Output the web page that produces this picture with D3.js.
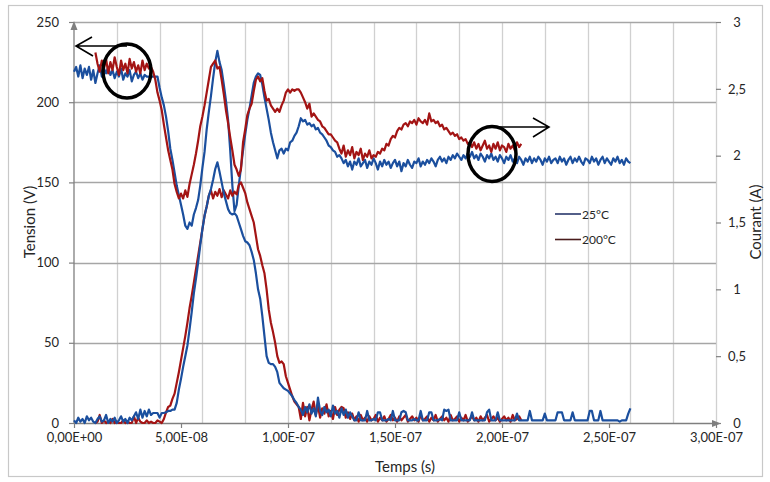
<!DOCTYPE html>
<html><head><meta charset="utf-8">
<script src="https://cdn.jsdelivr.net/npm/d3@7"></script>
<style>
html,body{margin:0;padding:0;background:#fff;}
svg{display:block;font-family:Lato,"Open Sans",sans-serif;}
</style></head>
<body><svg id="c" width="770" height="482"></svg>
<script>
// ---- Data (sampled every 1 ns) ----
const sampleStep = 1e-9;
const start25 = 0;      // 25°C records start at t = 0
const start200 = 1e-8;  // 200°C records start at t = 10 ns

// Tension 25°C (V), t = 0 .. 260 ns
const tension25 = [
 219,222,216,223,215,221,217,222,214,220,
 212,218,223,216,221,218,222,217,220,215,
 219,216,221,214,218,216,220,213,217,219,
 215,218,214,217,216,216,216,216,216,
 216,209,203,198,191,182,171,164,156,148,142,
 136,130,123,121,125,123,130,134,139,148,
 159,169,183,194,204,215,225,232,225,220,
 211,201,189,170,148,132,136,148,159,170,
 180,189,196,204,212,216,218,217,211,203,
 196,189,181,175,170,165,170,171,168,171,
 170,175,176,179,181,185,190,188,189,186,
 187,185,186,183,184,181,180,178,176,173,
 172,170,169,166,167,165,
 162,164,160,163,158,163,161,165,160,162,
 164,159,163,161,165,162,158,163,160,164,
 161,163,159,162,164,160,163,157,162,160,
 164,161,159,163,162,165,160,163,161,164,
 162,165,163,160,164,166,163,165,162,166,
 164,167,165,168,166,164,167,165,168,166,
 169,165,167,164,168,166,163,167,165,168,
 164,166,163,167,165,162,166,164,167,163,
 165,162,166,164,161,165,163,166,162,165,
 163,166,164,161,165,163,166,162,164,165,
 162,166,163,165,161,164,166,162,165,163,
 166,163,161,165,164,162,166,163,165,161,
 164,166,162,165,163,161,165,163,166,162,
 164,161,165,163,162
];

// Tension 200°C (V), t = 10 .. 209 ns
const tension200 = [
 231,224,219,226,221,227,218,225,220,228,
 222,217,226,220,224,218,227,221,225,219,
 223,218,226,220,224,221,
 222,
 219,214,206,201,195,186,178,170,164,158,149,144,140,
 143,140,145,141,149,155,161,168,176,185,
 191,198,206,214,222,224,226,221,222,214,
 205,195,187,178,170,161,158,154,158,175,
 183,192,196,199,207,214,216,213,215,207,
 201,202,198,196,194,196,194,198,201,206,
 208,206,208,207,208,208,206,203,200,196,199,191,
 193,191,189,188,185,184,182,180,180,178,176,175,
 171,168,173,166,170,167,172,165,169,167,171,164,168,166,170,165,167,
 166,169,168,171,
 170,174,173,177,179,178,182,184,183,186,187,
 185,188,187,189,186,190,188,187,189,186,193,188,189,187,188,
 185,186,183,184,182,180,181,179,180,177,178,176,177,174,175,
 172,175,171,174,170,173,176,171,173,169,174,171,175,170,173,172,169,174,171,173,170,175,172,174
];

// Courant 25°C (A), t = 0 .. 260 ns
const courant25 = [
 0.02,0.0,0.04,0.01,0.03,0.0,0.05,0.02,0.04,0.01,
 0.0,0.03,0.05,0.01,0.02,0.06,0.0,0.03,0.01,0.04,
 0.0,0.02,0.05,0.01,0.03,0.0,0.04,0.02,0.05,
 0.08,0.03,0.1,0.04,0.09,0.05,0.1,0.06,
 0.075,0.075,0.075,0.04,0.075,0.075,0.08,0.09,0.09,0.1,
 0.1,0.15,0.25,0.33,0.42,0.5,0.58,0.7,0.83,0.97,
 1.08,1.2,1.33,1.45,1.55,1.62,1.7,1.75,1.82,1.9,
 1.95,1.88,1.8,1.72,1.66,1.6,1.57,1.56,1.57,1.55,
 1.5,1.45,1.4,1.36,1.35,1.33,1.28,1.22,1.12,1.0,
 0.93,0.8,0.65,0.5,0.45,0.44,0.44,0.42,0.38,0.3,
 0.28,0.26,0.25,0.24,0.22,0.2,0.17,0.15,0.12,
 0.1,0.06,0.12,0.08,0.14,0.07,0.11,0.05,0.19,0.09,
 0.06,0.12,0.08,0.1,0.05,0.13,0.07,0.09,0.04,0.11,
 0.06,0.1,0.04,0.08,0.05,
 0.02,0.02,0.08,0.02,0.02,0.02,0.09,0.02,0.02,0.03,
 0.02,0.08,0.08,0.02,0.02,0.02,0.03,0.02,0.09,0.02,
 0.02,0.02,0.08,0.09,0.08,0.02,0.02,0.02,0.03,0.02,
 0.02,0.09,0.02,0.02,0.02,0.08,0.08,0.02,0.02,0.02,
 0.03,0.02,0.1,0.09,0.1,0.02,0.02,0.02,0.02,0.08,
 0.02,0.02,0.02,0.02,0.02,0.08,0.02,0.02,0.02,0.02,
 0.02,0.02,0.08,0.1,0.02,0.02,0.02,0.08,0.02,0.02,
 0.02,0.02,0.02,0.02,0.02,0.02,0.07,0.02,0.02,0.02,
 0.02,0.02,0.09,0.02,0.02,0.02,0.02,0.02,0.02,0.07,
 0.02,0.02,0.02,0.02,0.02,0.08,0.08,0.08,0.02,0.02,
 0.02,0.02,0.08,0.02,0.02,0.02,0.02,0.02,0.02,0.02,
 0.09,0.09,0.02,0.02,0.02,0.09,0.02,0.02,0.02,0.02,
 0.02,0.02,0.02,0.02,0.01,0.02,0.02,0.02,0.07,0.11
];

// Courant 200°C (A), t = 10 .. 209 ns
const courant200 = [
 0.0,0.01,0.06,0.0,0.02,0.0,0.01,0.0,0.03,0.0,
 0.01,0.0,0.0,0.02,0.0,0.01,0.0,0.0,0.05,0.0,
 0.04,0.01,0.0,0.0,0.02,0.0,0.01,0.0,0.0,0.02,0.01,0.0,
 0.03,0.08,0.12,0.13,0.18,0.22,0.3,0.38,0.47,0.56,
 0.65,0.75,0.86,0.95,1.05,1.15,1.25,1.35,1.45,1.55,
 1.62,1.7,1.74,1.68,1.73,1.7,1.75,1.69,1.74,1.71,1.68,1.74,1.7,1.73,1.71,
 1.78,1.8,1.76,1.72,1.65,1.6,1.55,1.5,1.4,1.3,
 1.25,1.18,1.12,1.0,0.85,0.75,0.68,0.6,0.5,0.45,
 0.46,0.44,0.35,0.3,0.25,0.2,0.16,0.14,0.12,
 0.03,0.15,0.05,0.12,0.02,0.1,0.16,0.06,0.13,0.04,
 0.11,0.07,0.14,0.05,0.09,0.03,0.12,0.06,0.1,0.12,
 0.11,0.04,0.08,0.03,0.07,
 0.02,0.05,0.01,0.06,0.02,0.04,0.01,0.05,0.02,0.03,
 0.06,0.01,0.04,0.02,0.05,0.01,0.03,0.06,0.02,0.04,
 0.01,0.05,0.02,0.04,0.06,0.01,0.03,0.05,0.02,0.04,
 0.01,0.06,0.02,0.03,0.05,0.01,0.04,0.02,0.06,0.01,
 0.03,0.05,0.02,0.04,0.01,0.06,0.02,0.03,0.05,0.01,
 0.04,0.02,0.06,0.01,0.03,0.05,0.02,0.04,0.01,0.05,
 0.02,0.04,0.06,0.01,0.03,0.05,0.02,0.04,0.01,0.03,
 0.05,0.02,0.04,0.01,0.06,0.02,0.03,0.05,0.02
];

const xTickValues = [0, 5e-8, 1e-7, 1.5e-7, 2e-7, 2.5e-7, 3e-7];
const xTickLabels = ["0,00E+00","5,00E-08","1,00E-07","1,50E-07","2,00E-07","2,50E-07","3,00E-07"];
const yLeftTicks = [0, 50, 100, 150, 200, 250];
const yRightTicks = [0, 0.5, 1, 1.5, 2, 2.5, 3];
const yRightLabels = ["0","0,5","1","1,5","2","2,5","3"];
const legendLabels = ["25°C", "200°C"];

// ---- Drawing ----
const svg = d3.select("#c");
const L = 74, R = 716, T = 22, B = 423;
const x = d3.scaleLinear().domain([0, 3e-7]).range([L, R]);
const yV = d3.scaleLinear().domain([0, 250]).range([B, T]);
const yA = d3.scaleLinear().domain([0, 3]).range([B, T]);

const blue = "#1b4f9e", red = "#a31414";
const textCol = "#262626";

// chart border
svg.append("rect").attr("x", 8.5).attr("y", 5.5).attr("width", 754).attr("height", 471)
  .attr("fill", "#fff").attr("stroke", "#c8c8c8").attr("stroke-width", 1.2);

// vertical gridlines every 2E-08
const vg = d3.range(1, 16).map(i => i * 2e-8);
svg.append("g").selectAll("line").data(vg).join("line")
  .attr("x1", d => Math.round(x(d)) + 0.5).attr("x2", d => Math.round(x(d)) + 0.5)
  .attr("y1", T).attr("y2", B).attr("stroke", "#d0d0d0").attr("stroke-width", 1.3);
// horizontal gridlines
svg.append("g").selectAll("line").data(yLeftTicks.slice(1)).join("line")
  .attr("x1", L).attr("x2", R)
  .attr("y1", d => Math.round(yV(d)) + 0.5).attr("y2", d => Math.round(yV(d)) + 0.5)
  .attr("stroke", "#a6a6a6").attr("stroke-width", 1.3);

// axes
const axX = svg.append("g").attr("transform", `translate(0,${B})`)
  .call(d3.axisBottom(x).tickValues(xTickValues).tickFormat((d, i) => xTickLabels[i]).tickSize(5).tickPadding(5));
const axL = svg.append("g").attr("transform", `translate(${L},0)`)
  .call(d3.axisLeft(yV).tickValues(yLeftTicks).tickSize(5).tickPadding(10));
const axR = svg.append("g").attr("transform", `translate(${R},0)`)
  .call(d3.axisRight(yA).tickValues(yRightTicks).tickFormat((d, i) => yRightLabels[i]).tickSize(5).tickPadding(16));
[axX, axL, axR].forEach(a => {
  a.select(".domain").remove();
  a.selectAll(".tick line").attr("stroke", "#808080").attr("stroke-width", 1.2);
  a.selectAll(".tick text").attr("fill", textCol).attr("font-size", 13).attr("font-family", "Lato, sans-serif");
});
axR.selectAll(".tick text").attr("text-anchor", "middle").attr("x", 21);

// axis lines with arrowheads
const axisCol = "#7f7f7f";
svg.append("line").attr("x1", L).attr("x2", L).attr("y1", B).attr("y2", T + 4)
  .attr("stroke", axisCol).attr("stroke-width", 1.3);
svg.append("path").attr("d", `M${L},${T - 1} L${L - 3.5},${T + 8} L${L + 3.5},${T + 8} Z`).attr("fill", axisCol);
svg.append("line").attr("x1", L).attr("x2", R - 2).attr("y1", B + 0.5).attr("y2", B + 0.5)
  .attr("stroke", axisCol).attr("stroke-width", 1.3);
svg.append("path").attr("d", `M${R + 5},${B + 0.5} L${R - 4},${B - 3} L${R - 4},${B + 4} Z`).attr("fill", axisCol);

// series
function pts(arr, t0) { return arr.map((v, i) => [t0 + i * sampleStep, v]); }
const lineV = d3.line().x(d => x(d[0])).y(d => yV(d[1]));
const lineA = d3.line().x(d => x(d[0])).y(d => yA(d[1]));
const series = [
  { data: pts(tension25, start25), gen: lineV, col: blue },
  { data: pts(tension200, start200), gen: lineV, col: red },
  { data: pts(courant200, start200), gen: lineA, col: red },
  { data: pts(courant25, start25), gen: lineA, col: blue }
];
svg.append("g").selectAll("path").data(series).join("path")
  .attr("d", s => s.gen(s.data)).attr("fill", "none")
  .attr("stroke", s => s.col).attr("stroke-width", 2.2).attr("stroke-linejoin", "round");

// axis titles
svg.append("text").attr("transform", "translate(35,222) rotate(-90)").attr("text-anchor", "middle")
  .attr("font-size", 15).attr("fill", textCol).text("Tension (V)");
svg.append("text").attr("transform", "translate(761,222) rotate(-90)").attr("text-anchor", "middle")
  .attr("font-size", 15).attr("fill", textCol).text("Courant (A)");
svg.append("text").attr("x", 405).attr("y", 472).attr("text-anchor", "middle")
  .attr("font-size", 15).attr("fill", textCol).text("Temps (s)");

// legend
const legCols = ["#28386c", "#4a1c1c"];
const leg = svg.append("g");
legendLabels.forEach((lab, i) => {
  const yy = 214 + i * 25.5;
  leg.append("line").attr("x1", 555).attr("x2", 581).attr("y1", yy).attr("y2", yy)
    .attr("stroke", legCols[i]).attr("stroke-width", 1.6);
  leg.append("text").attr("x", 582).attr("y", yy + 4.5).attr("font-size", 12).attr("fill", textCol).text(lab);
});

// annotations: circles and arrows
const ann = svg.append("g").attr("fill", "none").attr("stroke", "#000");
ann.append("ellipse").attr("cx", 127).attr("cy", 71).attr("rx", 24).attr("ry", 27).attr("stroke-width", 3.5);
ann.append("path").attr("d", "M127,46 L76,46 M92,37 L76,46 L93,56").attr("stroke-width", 1.6);
ann.append("ellipse").attr("cx", 492).attr("cy", 154).attr("rx", 24).attr("ry", 27.5).attr("stroke-width", 3.5);
ann.append("path").attr("d", "M497,127 L549,127 M533,118 L549,127 L533,137").attr("stroke-width", 1.6);
</script>
</body></html>
